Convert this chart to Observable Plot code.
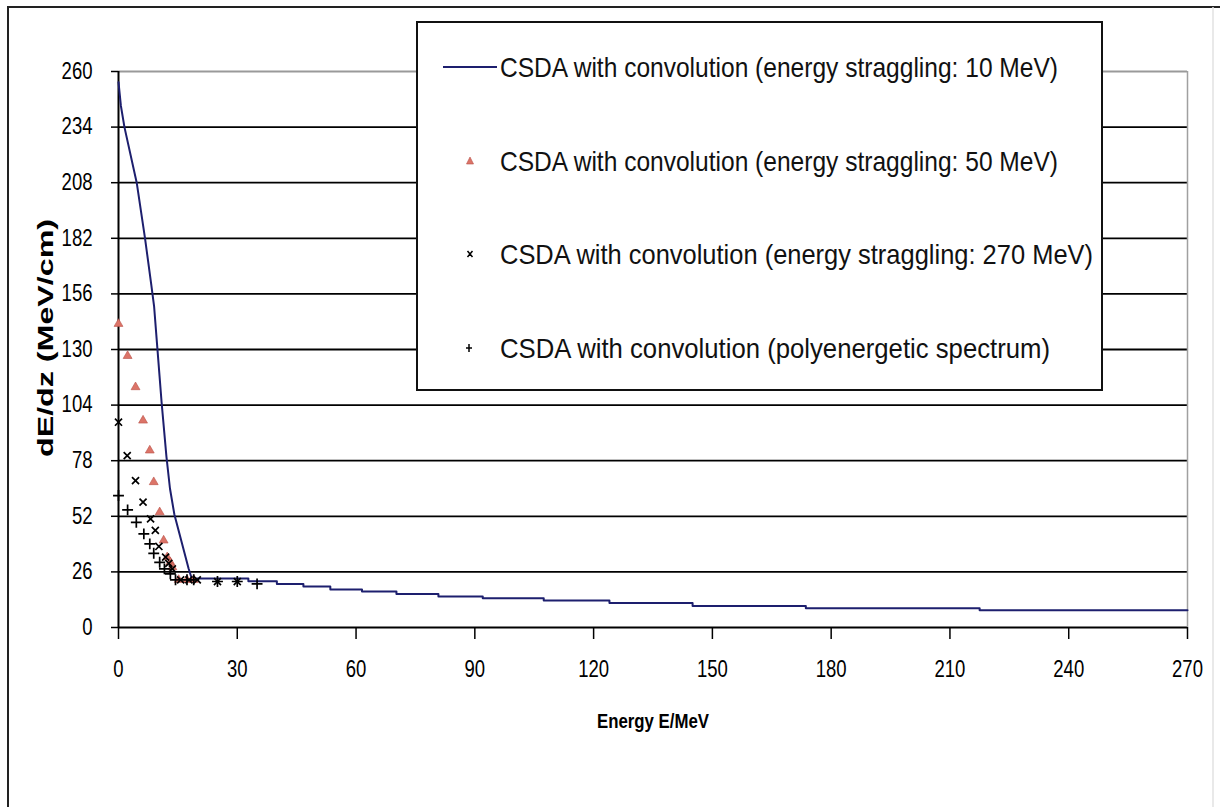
<!DOCTYPE html>
<html><head><meta charset="utf-8">
<script src="https://cdn.jsdelivr.net/npm/d3@7"></script>
<script src="https://cdn.jsdelivr.net/npm/@observablehq/plot@0.6"></script>
<style>
html,body{margin:0;padding:0;background:#fff;}
#wrap{position:relative;width:1220px;height:807px;overflow:hidden;background:#fff;}
#wrap > svg{position:absolute;left:0;top:0;}
</style></head><body><div id="wrap"></div>
<script>
// ---- tick labels ----
const xTicks = [0, 30, 60, 90, 120, 150, 180, 210, 240, 270];
const yTicks = [0, 26, 52, 78, 104, 130, 156, 182, 208, 234, 260];

// ---- series names ----
const seriesNames = [
  "CSDA with convolution (energy straggling: 10 MeV)",
  "CSDA with convolution (energy straggling: 50 MeV)",
  "CSDA with convolution (energy straggling: 270 MeV)",
  "CSDA with convolution (polyenergetic spectrum)"
];

// ---- 10 MeV line: steep part (linear) ----
const steepE = [0, 0.6, 1.5, 4.6, 6.7, 8.3, 9.0, 9.8, 10.9, 12.1, 13.0, 14.1, 17.7, 18.5];
const steepV = [255, 244, 234, 208, 182, 160, 150, 131, 105, 80, 65, 53, 27.6, 22.9];
// ---- 10 MeV line: stepped tail (step-after) ----
const tailE = [18.5, 32.8, 40, 46.7, 53.5, 61.5, 70.2, 80.8, 92, 107.4, 124, 145, 173.6, 217.5, 270];
const tailV = [22.9, 21.6, 20.4, 19.2, 17.8, 16.8, 15.7, 14.5, 13.7, 12.6, 11.5, 10.1, 9.0, 8.1, 8.1];

// ---- 50 MeV (triangles) ----
const s50E = [0, 2.3, 4.3, 6.2, 7.9, 8.9, 10.4, 11.4, 12.3, 13.1, 13.6, 15.2, 17.3, 19.0];
const s50V = [142, 127, 112.4, 96.8, 82.8, 68, 53.9, 40.7, 32.9, 30.5, 28.2, 22.3, 22.3, 22.3];

// ---- 270 MeV (crosses) ----
const s270E = [0, 2.2, 4.3, 6.2, 8.1, 9.3, 10.2, 11.9, 12.7, 13.6, 15.7, 17.8, 19.9, 25, 30];
const s270V = [96, 80.4, 68.7, 58.6, 50.8, 45.4, 37.9, 32.9, 30, 27.4, 22.3, 22.3, 22.3, 21.5, 21.5];

// ---- polyenergetic (plus) ----
const polyE = [0, 2.3, 4.5, 6.4, 7.9, 8.9, 10.4, 11.6, 13.1, 14.4, 17.3, 19.0, 25, 30, 35];
const polyV = [61.7, 55, 49.2, 43.8, 39.1, 34.7, 30.5, 27.4, 25.1, 22.3, 22.3, 22.3, 21.5, 21.5, 20.4];

const zip = (E, V) => E.map((e, i) => ({E: e, V: V[i]}));
const steep = zip(steepE, steepV), tail = zip(tailE, tailV);
const s50 = zip(s50E, s50V), s270 = zip(s270E, s270V), poly = zip(polyE, polyV);

const LINE = "#1d1f6e", TRI = "#dc7468";
const FONT = '"Liberation Sans", Arial, "DejaVu Sans", sans-serif';

const chart = Plot.plot({
  width: 1220, height: 807,
  marginLeft: 118, marginRight: 33, marginTop: 71, marginBottom: 180,
  x: {domain: [0, 270]},
  y: {domain: [0, 260]},
  style: {fontFamily: FONT, fontSize: "23px", background: "transparent", color: "#000"},
  marks: [
    Plot.ruleY(yTicks.filter(d => d < 260), {stroke: "#000", strokeWidth: 1.8}),
    Plot.ruleY([260], {stroke: "#9a9a9a", strokeWidth: 2}),
    Plot.ruleX([270], {stroke: "#a0a0a0", strokeWidth: 1.5}),
    Plot.ruleX([0], {stroke: "#000", strokeWidth: 2}),
    Plot.axisY(yTicks, {tickSize: 7, tickPadding: 19, strokeWidth: 1.5, label: null}),
    Plot.axisX(xTicks, {tickSize: 12, tickPadding: 21, strokeWidth: 1.5, label: null}),
    Plot.line(steep, {x: "E", y: "V", stroke: LINE, strokeWidth: 2}),
    Plot.line(tail, {x: "E", y: "V", curve: "step-after", stroke: LINE, strokeWidth: 2}),
    Plot.dot(s50, {x: "E", y: "V", symbol: "triangle", r: 3.3, fill: TRI, stroke: "#b85048", strokeWidth: 0.6}),
    Plot.dot(s270, {x: "E", y: "V", symbol: "times", r: 3.3, stroke: "#000", strokeWidth: 1.7}),
    Plot.dot(poly, {x: "E", y: "V", symbol: "plus", r: 3.6, stroke: "#000", strokeWidth: 1.7})
  ]
});
const wrap = document.getElementById("wrap");
wrap.appendChild(chart);

// narrow, tall tick labels like the original
d3.select(chart).selectAll('g[aria-label="y-axis tick label"] text, g[aria-label="x-axis tick label"] text')
  .each(function () {
    const n = this.textContent.length;
    d3.select(this).attr("textLength", n * 10.3).attr("lengthAdjust", "spacingAndGlyphs");
  });

// ---- overlay: frame, legend, axis titles ----
const ov = d3.select(wrap).append("svg").attr("width", 1220).attr("height", 807)
  .style("pointer-events", "none").style("font-family", FONT);

ov.append("path").attr("d", "M8,807V7H1220").attr("fill", "none").attr("stroke", "#222").attr("stroke-width", 2);
ov.append("line").attr("x1", 1213).attr("x2", 1213).attr("y1", 7).attr("y2", 807).attr("stroke", "#e2e2e2").attr("stroke-width", 1.5);

// legend
const lg = ov.append("g");
lg.append("rect").attr("x", 417).attr("y", 22).attr("width", 685).attr("height", 368)
  .attr("fill", "#fff").attr("stroke", "#111").attr("stroke-width", 2);
const rowsY = [67, 161, 254, 348];
const textLens = [558, 558, 593, 550];
seriesNames.forEach((t, i) => {
  lg.append("text").attr("x", 500).attr("y", rowsY[i]).attr("dy", "0.36em")
    .attr("font-size", 28).attr("textLength", textLens[i]).attr("lengthAdjust", "spacingAndGlyphs")
    .attr("fill", "#111").text(t);
});
lg.append("line").attr("x1", 443).attr("x2", 497).attr("y1", rowsY[0]).attr("y2", rowsY[0])
  .attr("stroke", LINE).attr("stroke-width", 2);
lg.append("path").attr("d", `M470,${rowsY[1]-4}L473.5,${rowsY[1]+3}L466.5,${rowsY[1]+3}Z`)
  .attr("fill", TRI).attr("stroke", "#b85048").attr("stroke-width", 0.6);
lg.append("path").attr("d", `M467.5,${rowsY[2]-3}L472.5,${rowsY[2]+3}M472.5,${rowsY[2]-3}L467.5,${rowsY[2]+3}`)
  .attr("stroke", "#000").attr("stroke-width", 1.5);
lg.append("path").attr("d", `M469,${rowsY[3]-4}V${rowsY[3]+4}M466,${rowsY[3]}H472`)
  .attr("stroke", "#000").attr("stroke-width", 1.5);

// axis titles
ov.append("text").attr("transform", "translate(45,338) rotate(-90)").attr("text-anchor", "middle")
  .attr("dy", "0.36em").attr("font-size", 22).attr("font-weight", "bold")
  .attr("textLength", 238).attr("lengthAdjust", "spacingAndGlyphs").text("dE/dz (MeV/cm)");
ov.append("text").attr("x", 653).attr("y", 720).attr("text-anchor", "middle")
  .attr("dy", "0.36em").attr("font-size", 21).attr("font-weight", "bold")
  .attr("textLength", 112).attr("lengthAdjust", "spacingAndGlyphs").text("Energy E/MeV");
</script>
</body></html>
